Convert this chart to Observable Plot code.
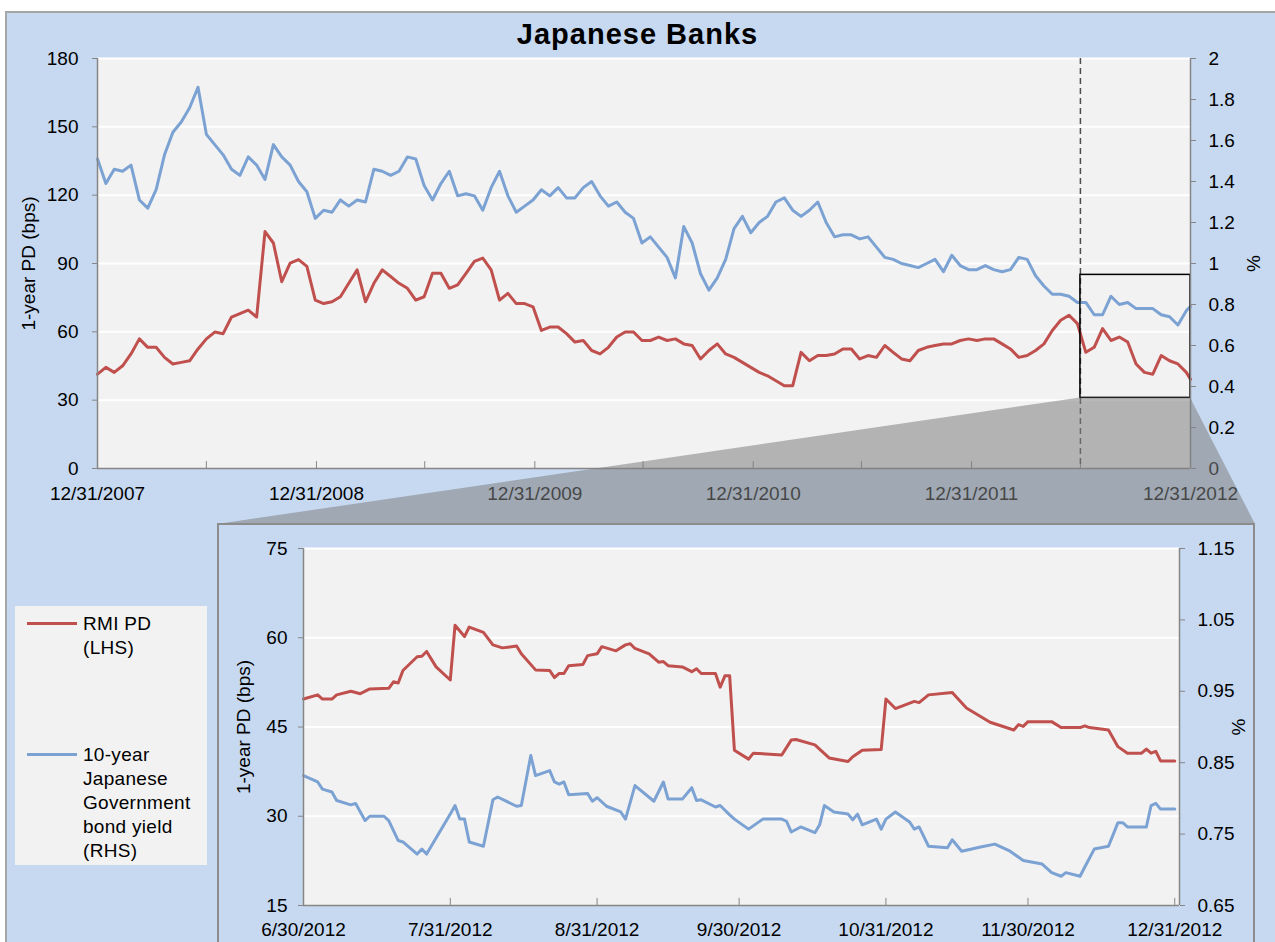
<!DOCTYPE html>
<html>
<head>
<meta charset="utf-8">
<script src="https://cdn.jsdelivr.net/npm/d3@7"></script>
<script src="https://cdn.jsdelivr.net/npm/@observablehq/plot@0.6"></script>
<style>
html,body{margin:0;padding:0;background:#fff;}
#fig{position:relative;width:1275px;height:942px;overflow:hidden;font-family:"Liberation Sans",Arial,sans-serif;color:#000;}
#panel{position:absolute;left:5px;top:11px;width:1290px;height:950px;background:#c6d9f1;border:2px solid #a6a6a6;box-sizing:border-box;}
#title{position:absolute;left:0;width:1275px;top:20px;line-height:29px;text-align:center;font-weight:bold;font-size:29px;letter-spacing:1px;}
#insetPanel{position:absolute;left:217px;top:523px;width:1038px;height:440px;background:#c6d9f1;border:2px solid #8c8c8c;box-sizing:border-box;}
#legend{position:absolute;left:15px;top:606px;width:192px;height:259px;background:#f2f2f2;}
#legend .sw{position:absolute;left:12px;width:50px;height:3px;}
#legend .tx{position:absolute;left:68px;font-size:19px;line-height:24px;letter-spacing:0.3px;}
.abs{position:absolute;}
</style>
</head>
<body>
<div id="fig">
  <div id="panel"></div>
  <div id="title">Japanese Banks</div>
</div>
<script>
// ---------- data ----------
const seriesNames = ["RMI PD (LHS)", "10-year Japanese Government bond yield (RHS)"];
const seriesColors = ["#c0504d", "#7ba2d3"];

// Main chart: samples every 14 days from 12/31/2007, last value on 12/31/2012
const topStart = "2007-12-31";
const topEnd = "2012-12-31";
const topPD = [
  41.4,44.4,42.2,45.1,50.3,56.9,53.2,53.2,48.8,45.9,
  46.6,47.3,52.5,56.9,59.9,59.2,66.5,68.0,69.5,66.5,
  104,99,82,90.2,91.7,88.7,73.9,72.4,73.2,75.4,
  81.3,87.2,73.2,81.3,87.2,84.3,81.3,79.1,73.9,75.4,
  85.7,85.7,79.1,80.6,85.7,90.9,92.4,87.2,73.9,76.9,
  72.4,72.4,71.0,60.6,62.1,62.1,59.2,55.5,56.2,51.8,
  50.3,53.2,57.7,59.9,59.9,56.2,56.2,57.7,56.2,56.9,
  54.7,54.0,48.1,51.8,54.7,50.3,48.8,46.6,44.4,42.2,
  40.7,38.5,36.3,36.3,51.0,47.3,49.6,49.6,50.3,52.5,
  52.5,48.1,49.6,48.8,54.0,51.0,48.1,47.3,51.8,53.2,
  54.0,54.7,54.7,56.2,56.9,56.2,56.9,56.9,54.7,52.5,
  48.8,49.6,51.8,54.7,60.6,65.1,67.3,63.6,51.0,53.2,
  61.4,56.2,57.7,55.5,45.9,42.2,41.4,49.6,47.3,45.9,
  42.2,39.2
];
const topJGB = [
  1.51,1.39,1.46,1.45,1.48,1.31,1.27,1.36,1.53,1.64,
  1.69,1.76,1.86,1.63,1.58,1.53,1.46,1.43,1.52,1.48,
  1.41,1.58,1.52,1.48,1.40,1.35,1.22,1.26,1.25,1.31,
  1.28,1.31,1.30,1.46,1.45,1.43,1.45,1.52,1.51,1.38,
  1.31,1.39,1.45,1.33,1.34,1.33,1.26,1.37,1.45,1.33,
  1.25,1.28,1.31,1.36,1.33,1.37,1.32,1.32,1.37,1.40,
  1.33,1.28,1.30,1.25,1.22,1.10,1.13,1.08,1.03,0.93,
  1.18,1.10,0.95,0.87,0.93,1.02,1.17,1.23,1.15,1.20,
  1.23,1.30,1.32,1.26,1.23,1.26,1.30,1.20,1.13,1.14,
  1.14,1.12,1.13,1.08,1.03,1.02,1.00,0.99,0.98,1.00,
  1.02,0.96,1.04,0.99,0.97,0.97,0.99,0.97,0.96,0.97,
  1.03,1.02,0.94,0.89,0.85,0.85,0.84,0.81,0.81,0.75,
  0.75,0.84,0.80,0.81,0.78,0.78,0.78,0.75,0.74,0.70,
  0.77,0.79
];
const topLeftTicks = [0, 30, 60, 90, 120, 150, 180];
const topRightTicks = [0, 0.2, 0.4, 0.6, 0.8, 1, 1.2, 1.4, 1.6, 1.8, 2];
const topYearTicks = ["2007-12-31","2008-12-31","2009-12-31","2010-12-31","2011-12-31","2012-12-31"];
const topMinorTicks = ["2008-06-30","2008-12-31","2009-06-30","2009-12-31","2010-06-30","2010-12-31","2011-06-30","2011-12-31","2012-06-30"];
const zoomDates = ["2012-06-30", "2012-12-31"];
const zoomPD = [31, 85];

// Inset chart (6/30/2012 - 12/31/2012)
const insetPdDates = ["2012-06-30","2012-07-03","2012-07-04","2012-07-06","2012-07-07","2012-07-10","2012-07-12","2012-07-14","2012-07-18","2012-07-19","2012-07-20","2012-07-21","2012-07-24","2012-07-25","2012-07-26","2012-07-28","2012-07-31","2012-08-01","2012-08-03","2012-08-04","2012-08-07","2012-08-09","2012-08-11","2012-08-14","2012-08-15","2012-08-18","2012-08-21","2012-08-22","2012-08-23","2012-08-24","2012-08-25","2012-08-28","2012-08-29","2012-08-31","2012-09-01","2012-09-04","2012-09-06","2012-09-07","2012-09-08","2012-09-11","2012-09-13","2012-09-14","2012-09-15","2012-09-18","2012-09-20","2012-09-21","2012-09-22","2012-09-25","2012-09-26","2012-09-27","2012-09-28","2012-09-29","2012-10-02","2012-10-03","2012-10-09","2012-10-11","2012-10-12","2012-10-16","2012-10-19","2012-10-23","2012-10-24","2012-10-26","2012-10-30","2012-10-31","2012-11-02","2012-11-06","2012-11-07","2012-11-09","2012-11-14","2012-11-17","2012-11-22","2012-11-27","2012-11-28","2012-11-29","2012-11-30","2012-12-05","2012-12-07","2012-12-11","2012-12-12","2012-12-13","2012-12-17","2012-12-19","2012-12-21","2012-12-24","2012-12-25","2012-12-26","2012-12-27","2012-12-28","2012-12-31"];
const insetPd = [49.7,50.4,49.7,49.7,50.4,51.0,50.6,51.4,51.5,52.6,52.4,54.5,56.8,56.9,57.7,55.1,52.9,62.1,60.2,61.8,60.9,58.8,58.3,58.6,57.3,54.6,54.5,53.3,54.0,54.0,55.3,55.5,57.0,57.3,58.5,57.8,58.8,59.0,58.2,57.3,55.9,56.0,55.3,55.1,54.3,54.8,54.0,54.0,51.7,53.6,53.6,41.1,39.6,40.6,40.3,42.8,42.9,42.0,39.8,39.2,40.0,41.1,41.2,49.7,48.1,49.3,49.1,50.4,50.8,48.2,45.8,44.5,45.4,45.1,45.9,45.9,44.9,44.9,45.2,44.9,44.5,41.7,40.6,40.6,41.3,40.6,40.9,39.3,39.3];
const insetJgbDates = ["2012-06-30","2012-07-03","2012-07-04","2012-07-06","2012-07-07","2012-07-10","2012-07-11","2012-07-13","2012-07-14","2012-07-17","2012-07-18","2012-07-20","2012-07-21","2012-07-24","2012-07-25","2012-07-26","2012-07-31","2012-08-01","2012-08-02","2012-08-03","2012-08-04","2012-08-07","2012-08-09","2012-08-10","2012-08-14","2012-08-15","2012-08-17","2012-08-18","2012-08-21","2012-08-22","2012-08-23","2012-08-24","2012-08-25","2012-08-29","2012-08-30","2012-08-31","2012-09-02","2012-09-05","2012-09-06","2012-09-08","2012-09-12","2012-09-14","2012-09-15","2012-09-18","2012-09-20","2012-09-21","2012-09-22","2012-09-25","2012-09-26","2012-09-28","2012-09-29","2012-10-02","2012-10-05","2012-10-09","2012-10-10","2012-10-11","2012-10-13","2012-10-16","2012-10-17","2012-10-18","2012-10-20","2012-10-23","2012-10-24","2012-10-25","2012-10-26","2012-10-29","2012-10-30","2012-10-31","2012-11-02","2012-11-05","2012-11-06","2012-11-07","2012-11-09","2012-11-13","2012-11-14","2012-11-16","2012-11-20","2012-11-23","2012-11-26","2012-11-29","2012-12-03","2012-12-05","2012-12-07","2012-12-08","2012-12-11","2012-12-12","2012-12-14","2012-12-17","2012-12-19","2012-12-20","2012-12-21","2012-12-25","2012-12-26","2012-12-27","2012-12-28","2012-12-31"];
const insetJgb = [0.832,0.823,0.813,0.809,0.797,0.791,0.793,0.769,0.775,0.775,0.769,0.741,0.739,0.722,0.729,0.722,0.778,0.790,0.771,0.771,0.739,0.733,0.798,0.802,0.789,0.790,0.860,0.832,0.839,0.823,0.820,0.823,0.805,0.807,0.796,0.801,0.789,0.781,0.771,0.818,0.796,0.823,0.799,0.799,0.815,0.797,0.798,0.788,0.790,0.777,0.771,0.757,0.771,0.771,0.768,0.753,0.760,0.752,0.763,0.790,0.781,0.778,0.770,0.778,0.763,0.771,0.757,0.771,0.781,0.767,0.757,0.760,0.733,0.731,0.742,0.726,0.732,0.736,0.727,0.713,0.708,0.696,0.691,0.696,0.691,0.704,0.729,0.733,0.766,0.766,0.760,0.760,0.790,0.793,0.785,0.785];
const insetDomain = ["2012-06-30", "2013-01-01"];
const insetLeftTicks = [15, 30, 45, 60, 75];
const insetRightTicks = [0.65, 0.75, 0.85, 0.95, 1.05, 1.15];
const insetMonthTicks = ["2012-06-30","2012-07-31","2012-08-31","2012-09-30","2012-10-31","2012-11-30","2012-12-31"];

// ---------- helpers ----------
const parse = d3.utcParse("%Y-%m-%d");
const fmtDate = d3.utcFormat("%-m/%-d/%Y");
const red = seriesColors[0], blue = seriesColors[1];
const axisGray = "#868686";
const topR2L = v => v * 90;                    // right axis (%) -> left axis (bps)
const topL2R = v => v / 90;
const insR2L = v => 15 + (v - 0.65) * 120;
const insL2R = v => (v - 15) / 120 + 0.65;

const topRows = topPD.map((pd, i) => ({
  date: i < topPD.length - 1 ? d3.utcDay.offset(parse(topStart), 14 * i) : parse(topEnd),
  pd, jgb: topJGB[i]
}));
const insetPdRows = insetPdDates.map((d, i) => ({date: parse(d), v: insetPd[i]}));
const insetJgbRows = insetJgbDates.map((d, i) => ({date: parse(d), v: insetJgb[i]}));
const zoomBox = [{x1: parse(zoomDates[0]), x2: parse(zoomDates[1]), y1: zoomPD[0], y2: zoomPD[1]}];

const fig = document.getElementById("fig");
const svgStyle = {background: "transparent", color: "#000", fontSize: "19px", fontFamily: "'Liberation Sans', Arial, sans-serif", overflow: "visible"};

// ---------- main chart ----------
const topX0 = parse(topStart), topX1 = parse(topEnd);
const topChart = Plot.plot({
  width: 1275, height: 520,
  marginLeft: 97, marginRight: 85, marginTop: 58, marginBottom: 52,
  x: {type: "utc", domain: [topX0, topX1], axis: null},
  y: {domain: [0, 180], axis: null},
  style: svgStyle,
  marks: [
    Plot.frame({fill: "#f2f2f2", stroke: null}),
    Plot.ruleY(topLeftTicks.slice(1), {stroke: "#fff", strokeWidth: 2}),
    Plot.ruleX(topMinorTicks.map(parse), {y1: 0, y2: 3, stroke: axisGray}),
    Plot.ruleX([parse(zoomDates[0])], {stroke: "#4d4d4d", strokeWidth: 1.5, strokeDasharray: "6,4"}),
    Plot.line(topRows, {x: "date", y: d => topR2L(d.jgb), stroke: blue, strokeWidth: 3}),
    Plot.line(topRows, {x: "date", y: "pd", stroke: red, strokeWidth: 3}),
    Plot.rect(zoomBox, {x1: "x1", x2: "x2", y1: "y1", y2: "y2", fill: "none", stroke: "#000", strokeWidth: 1.5}),
    Plot.ruleX([topX0], {stroke: axisGray, strokeWidth: 1.5}),
    Plot.ruleX([topX1], {stroke: axisGray, strokeWidth: 1.5}),
    Plot.ruleY([0], {stroke: axisGray, strokeWidth: 1.5}),
    Plot.axisY({anchor: "left", ticks: topLeftTicks, tickSize: 5, tickPadding: 14, stroke: axisGray, fill: "#000", label: null}),
    Plot.axisY({anchor: "right", ticks: topRightTicks.map(topR2L), tickFormat: d => d3.format("~g")(+topL2R(d).toFixed(2)), tickSize: 5, tickPadding: 13, stroke: axisGray, fill: "#000", label: null}),
    Plot.axisX({ticks: topYearTicks.map(parse), tickFormat: fmtDate, tickSize: 0, tickPadding: 18, fill: "#000", label: null}),
    Plot.text(["1-year PD (bps)"], {frameAnchor: "left", dx: -69, rotate: -90, textAnchor: "middle", lineAnchor: "middle", fontSize: 19, fill: "#000"}),
    Plot.text(["%"], {frameAnchor: "right", dx: 63, rotate: -90, textAnchor: "middle", lineAnchor: "middle", fontSize: 19, fill: "#000"})
  ]
});
topChart.classList.add("abs");
topChart.style.left = "0px";
topChart.style.top = "0px";
fig.appendChild(topChart);

// ---------- inset geometry ----------
const insetLeft = 217, insetTop = 523, insetW = 1038, insetH = 419;

// ---------- connector (zoom) polygon ----------
function scaleFn(s) {
  if (s && typeof s.apply === "function") return v => s.apply(v);
  return d3.scaleLinear().domain(s.domain.map(Number)).range(s.range);
}
const sx = scaleFn(topChart.scale("x"));
const sy = scaleFn(topChart.scale("y"));
const poly = [
  [sx(zoomBox[0].x1), sy(zoomBox[0].y1)],
  [sx(zoomBox[0].x2), sy(zoomBox[0].y1)],
  [insetLeft + insetW, insetTop + 1],
  [insetLeft, insetTop + 1]
];
const overlay = d3.create("svg")
  .attr("width", 1275).attr("height", 942)
  .style("position", "absolute").style("left", "0px").style("top", "0px")
  .style("pointer-events", "none");
overlay.append("polygon")
  .attr("points", poly.map(p => p.join(",")).join(" "))
  .attr("fill", "#808080").attr("fill-opacity", 0.55);
fig.appendChild(overlay.node());

// ---------- legend ----------
const legend = document.createElement("div");
legend.id = "legend";
legend.innerHTML =
  `<div class="sw" style="top:16px;background:${red}"></div>` +
  `<div class="tx" style="top:6px">RMI PD<br>(LHS)</div>` +
  `<div class="sw" style="top:147px;background:${blue}"></div>` +
  `<div class="tx" style="top:137px">10-year<br>Japanese<br>Government<br>bond yield<br>(RHS)</div>`;
fig.appendChild(legend);

// ---------- inset panel ----------
const insetPanel = document.createElement("div");
insetPanel.id = "insetPanel";
fig.appendChild(insetPanel);

const inX0 = parse(insetDomain[0]), inX1 = parse(insetDomain[1]);
const insetChart = Plot.plot({
  width: insetW, height: insetH,
  marginLeft: 86, marginRight: 76, marginTop: 25, marginBottom: 37,
  x: {type: "utc", domain: [inX0, inX1], axis: null},
  y: {domain: [15, 75], axis: null},
  style: svgStyle,
  marks: [
    Plot.frame({fill: "#f2f2f2", stroke: null}),
    Plot.ruleY(insetLeftTicks.slice(1), {stroke: "#fff", strokeWidth: 2}),
    Plot.ruleX(insetMonthTicks.slice(1).map(parse), {y1: 15, y2: 16.2, stroke: axisGray}),
    Plot.line(insetJgbRows, {x: "date", y: d => insR2L(d.v), stroke: blue, strokeWidth: 3}),
    Plot.line(insetPdRows, {x: "date", y: "v", stroke: red, strokeWidth: 3}),
    Plot.ruleX([inX0], {stroke: axisGray, strokeWidth: 1.5}),
    Plot.ruleX([inX1], {stroke: axisGray, strokeWidth: 1.5}),
    Plot.ruleY([15], {stroke: axisGray, strokeWidth: 1.5}),
    Plot.axisY({anchor: "left", ticks: insetLeftTicks, tickSize: 5, tickPadding: 11, stroke: axisGray, fill: "#000", label: null}),
    Plot.axisY({anchor: "right", ticks: insetRightTicks.map(insR2L), tickFormat: d => d3.format(".2f")(insL2R(d)), tickSize: 5, tickPadding: 13, stroke: axisGray, fill: "#000", label: null}),
    Plot.axisX({ticks: insetMonthTicks.map(parse), tickFormat: fmtDate, tickSize: 0, tickPadding: 17, fill: "#000", label: null}),
    Plot.text(["1-year PD (bps)"], {frameAnchor: "left", dx: -60, rotate: -90, textAnchor: "middle", lineAnchor: "middle", fontSize: 19, fill: "#000"}),
    Plot.text(["%"], {frameAnchor: "right", dx: 59, rotate: -90, textAnchor: "middle", lineAnchor: "middle", fontSize: 19, fill: "#000"})
  ]
});
insetChart.classList.add("abs");
insetChart.style.left = insetLeft + "px";
insetChart.style.top = insetTop + "px";
fig.appendChild(insetChart);
</script>
</body>
</html>
